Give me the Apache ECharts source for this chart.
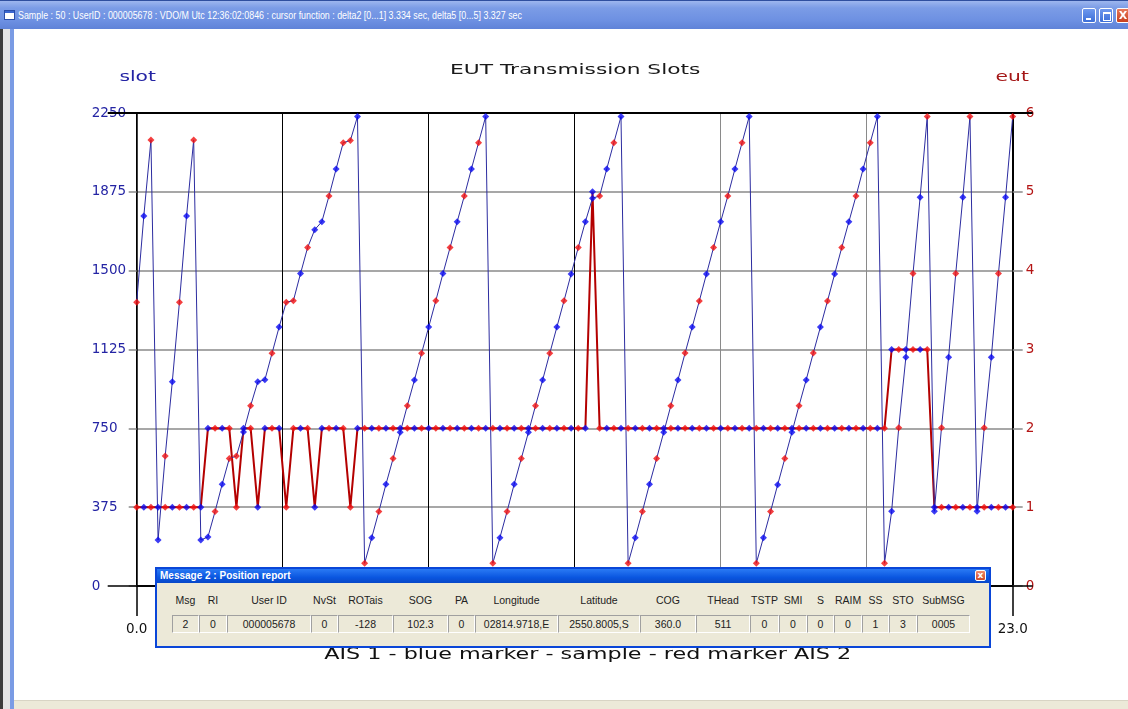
<!DOCTYPE html>
<html>
<head>
<meta charset="utf-8">
<script src="https://cdn.jsdelivr.net/npm/echarts@6/dist/echarts.min.js"></script>
<style>
html,body{margin:0;padding:0;width:1128px;height:709px;overflow:hidden;background:#fff;}
#chart{position:absolute;left:0;top:0;width:1128px;height:709px;}
#titlebar{position:absolute;left:0;top:0;width:1128px;height:29px;background:linear-gradient(#9db6ee 0%,#7b9ce6 25%,#6d90e2 70%,#5f83d8 100%);border-top:1px solid #2f4f9f;box-sizing:border-box;}
#titlebar .icon{position:absolute;left:4px;top:9px;width:11px;height:10px;background:#fff;border:1px solid #2a4da8;box-sizing:border-box;}
#titlebar .icon:before{content:'';position:absolute;left:0;top:0;width:9px;height:2px;background:#3a66d0;}
#ttext{position:absolute;left:18px;top:8px;white-space:nowrap;color:#fff;font:11px "Liberation Sans",Arial,sans-serif;transform-origin:0 0;}
.btn{position:absolute;top:7px;width:14px;height:15px;border:1px solid #fff;box-sizing:border-box;border-radius:2px;background:linear-gradient(#6e98ee,#3d6fd8);}
#bmin{left:1082px}#bmax{left:1099px}#bclose{left:1116px;background:linear-gradient(#e8795a,#c8401e);color:#fff;font:bold 11px "DejaVu Sans",sans-serif;text-align:center;line-height:13px;}
#bmin:after{content:'';position:absolute;left:3px;top:9px;width:5px;height:2px;background:#fff;}
#bmax:after{content:'';position:absolute;left:3px;top:3px;width:6px;height:6px;border:1px solid #fff;border-top-width:2px;}
#lborder{position:absolute;left:0;top:29px;width:14px;height:680px;background:linear-gradient(90deg,#3c3c3c 0,#3c3c3c 3px,#e4e4e4 3px,#e4e4e4 10px,#7a9be4 10px,#7a9be4 14px);}
#bstrip{position:absolute;left:14px;top:700px;width:1114px;height:9px;background:#ece9d8;border-top:1px solid #d8d4c4;box-sizing:border-box;}
#dlg{position:absolute;left:155px;top:567px;width:836px;height:81px;background:#ece9d8;border:2px solid #0a46d8;box-sizing:border-box;font:10.5px "Liberation Sans",Arial,sans-serif;color:#222;}
#dlg .dt{position:absolute;left:0;top:0;right:0;height:14px;background:linear-gradient(#2a7af4,#0a56e0 60%,#0848c8);color:#fff;font:bold 10px "Liberation Sans",Arial,sans-serif;line-height:14px;padding-left:3px;}
#dlg .dx{position:absolute;right:3px;top:1px;width:11px;height:11px;border:1px solid #fff;border-radius:2px;background:linear-gradient(#f08c6c,#d04a28);box-sizing:border-box;color:#fff;font:bold 9px "DejaVu Sans",sans-serif;line-height:9px;text-align:center;}
#dlg .hd{position:absolute;top:25px;text-align:center;white-space:nowrap;}
#dlg .cell{position:absolute;top:46px;height:18px;border-top:1px solid #a0a0a0;border-left:1px solid #a0a0a0;border-bottom:1px solid #fff;border-right:1px solid #fff;box-sizing:border-box;text-align:center;line-height:16px;white-space:nowrap;}
</style>
</head>
<body>
<div id="chart"></div>
<div id="titlebar"><div class="icon"></div><span id="ttext">Sample : 50 : UserID : 000005678 : VDO/M Utc 12:36:02:0846 : cursor function : delta2 [0...1] 3.334 sec, delta5 [0...5] 3.327 sec</span>
<div class="btn" id="bmin"></div><div class="btn" id="bmax"></div><div class="btn" id="bclose">X</div></div>
<div id="lborder"></div>
<div id="bstrip"></div>
<div id="dlg"><div class="dt">Message 2 : Position report<div class="dx">x</div></div></div>
<script>
// ---------------- data ----------------
const timeSpan = 23.0;            // x axis runs 0.0 .. 23.0
const xTickLabels = ['0.0', '23.0'];
const slotTicks = [0, 375, 750, 1125, 1500, 1875, 2250];
const eutTicks = [0, 1, 2, 3, 4, 5, 6];

// slot number of each sample (left axis)
const slotValues = [
  1350, 1760, 2122, 219, 618, 972, 1350, 1760, 2122, 219,
  233, 354, 484, 606, 618, 733, 858, 971, 981, 1107,
  1232, 1350, 1357, 1486, 1610, 1695, 1733, 1855, 1984, 2109,
  2119, 2233, 108, 230, 354, 484, 606, 731, 858, 980,
  1107, 1232, 1357, 1486, 1610, 1733, 1855, 1984, 2109, 2233,
  108, 230, 354, 484, 606, 731, 858, 980, 1107, 1232,
  1357, 1484, 1610, 1733, 1845, 1855, 1984, 2109, 2233, 108,
  230, 354, 484, 606, 731, 858, 980, 1108, 1232, 1356,
  1484, 1610, 1733, 1855, 1984, 2109, 2233, 108, 230, 354,
  482, 606, 731, 858, 980, 1108, 1232, 1356, 1484, 1610,
  1733, 1855, 1984, 2109, 2233, 108, 355, 753, 1088, 1486,
  1849, 2233, 355, 753, 1088, 1486, 1849, 2233, 355, 753,
  1088, 1486, 1849, 2233
];
// EUT value of each sample (right axis)
const eutValues = [
  1, 1, 1, 1, 1, 1, 1, 1, 1, 1,
  2, 2, 2, 2, 1, 2, 2, 1, 2, 2,
  2, 1, 2, 2, 2, 1, 2, 2, 2, 2,
  1, 2, 2, 2, 2, 2, 2, 2, 2, 2,
  2, 2, 2, 2, 2, 2, 2, 2, 2, 2,
  2, 2, 2, 2, 2, 2, 2, 2, 2, 2,
  2, 2, 2, 2, 5, 2, 2, 2, 2, 2,
  2, 2, 2, 2, 2, 2, 2, 2, 2, 2,
  2, 2, 2, 2, 2, 2, 2, 2, 2, 2,
  2, 2, 2, 2, 2, 2, 2, 2, 2, 2,
  2, 2, 2, 2, 2, 2, 3, 3, 3, 3,
  3, 3, 1, 1, 1, 1, 1, 1, 1, 1,
  1, 1, 1, 1
];
// receiving channel of each sample: 1 = AIS 1 (blue marker), 2 = AIS 2 (red marker)
const channels = [
  2, 1, 2, 1, 2, 1, 2, 1, 2, 1,
  1, 2, 1, 2, 2, 1, 2, 1, 1, 2,
  1, 2, 2, 1, 2, 1, 1, 2, 1, 2,
  2, 1, 2, 1, 2, 1, 2, 1, 2, 1,
  2, 1, 2, 1, 2, 1, 2, 1, 2, 1,
  2, 1, 2, 1, 2, 1, 2, 1, 2, 1,
  2, 1, 2, 1, 1, 2, 1, 2, 1, 2,
  1, 2, 1, 2, 1, 2, 1, 2, 1, 2,
  1, 2, 1, 2, 1, 2, 1, 2, 1, 2,
  1, 2, 1, 2, 1, 2, 1, 2, 1, 2,
  1, 2, 1, 2, 1, 2, 1, 2, 1, 2,
  1, 2, 1, 2, 1, 2, 1, 2, 1, 2,
  1, 2, 1, 2
];

// message 2 dialog content
const msgFields = ['Msg','RI','User ID','NvSt','ROTais','SOG','PA','Longitude','Latitude','COG','THead','TSTP','SMI','S','RAIM','SS','STO','SubMSG'];
const msgValues = ['2','0','000005678','0','-128','102.3','0','02814.9718,E','2550.8005,S','360.0','511','0','0','0','0','1','3','0005'];

// ---------------- dialog ----------------
(function(){
  const edges = [172,199,227,311,338,393,448,475,558,640,696,750,779,807,834,862,889,917,970];
  const dlg = document.getElementById('dlg');
  const ox = 157;
  msgFields.forEach((f, i) => {
    const l = edges[i] - ox, w = edges[i+1] - edges[i];
    const h = document.createElement('div');
    h.className = 'hd'; h.style.left = l + 'px'; h.style.width = w + 'px'; h.textContent = f;
    dlg.appendChild(h);
    const c = document.createElement('div');
    c.className = 'cell'; c.style.left = l + 'px'; c.style.width = w + 'px'; c.textContent = msgValues[i];
    dlg.appendChild(c);
  });
  const tt = document.getElementById('ttext');
  const wNat = tt.getBoundingClientRect().width;
  tt.style.transform = 'scaleX(' + (504 / wNat) + ')';
})();

// ---------------- chart ----------------
const sampleTimes = slotValues.map((_, i) => i * timeSpan / (slotValues.length - 1));
const slotData = sampleTimes.map((t, i) => [t, slotValues[i]]);
const eutData = sampleTimes.map((t, i) => [t, eutValues[i]]);
const pick = (arr, ch) => arr.filter((_, i) => channels[i] === ch);

const BLUE = '#0a0af0', RED = '#f01010';
const LABEL_FONT = '"DejaVu Sans", Verdana, sans-serif';

const chart = echarts.init(document.getElementById('chart'), null, {renderer: 'canvas'});
const marker = (name, data, yIdx, color) => ({
  type: 'scatter', name, data, xAxisIndex: 0, yAxisIndex: yIdx,
  symbol: 'diamond', symbolSize: [7, 7], itemStyle: {color}, z: 6, silent: true
});

chart.setOption({
  animation: false,
  backgroundColor: 'transparent',
  grid: {left: 136.7, right: 115.3, top: 113, bottom: 123, containLabel: false},
  xAxis: {
    type: 'value', min: 0, max: timeSpan, interval: timeSpan / 6,
    axisLine: {show: true, onZero: false, lineStyle: {color: '#000', width: 1.5}},
    axisTick: {show: true, length: 30, lineStyle: {color: '#000', width: 1.5}},
    axisLabel: {
      show: true, margin: 36, color: '#111', fontFamily: LABEL_FONT, fontSize: 13.5,
      formatter: v => (Math.abs(v) < 1e-6 ? xTickLabels[0] : (Math.abs(v - timeSpan) < 1e-6 ? xTickLabels[1] : ''))
    },
    splitLine: {show: true, lineStyle: {color: ['#000', '#000', '#000', '#000', '#8a8a8a', '#8a8a8a', '#000'], width: 1}}
  },
  yAxis: [
    {
      type: 'value', position: 'left', min: slotTicks[0], max: slotTicks[slotTicks.length - 1], interval: slotTicks[1] - slotTicks[0],
      axisLine: {show: true, lineStyle: {color: '#000', width: 1.5}},
      axisTick: {show: true, length: 8, lineStyle: {color: '#8a8a8a', width: 1.5}},
      axisLabel: {align: 'left', margin: 45, color: '#2424a4', fontFamily: LABEL_FONT, fontSize: 13.5,
                  formatter: v => String(v)},
      splitLine: {show: true, lineStyle: {color: ['#000', '#8a8a8a', '#8a8a8a', '#8a8a8a', '#8a8a8a', '#8a8a8a', '#000'], width: 1.5}}
    },
    {
      type: 'value', position: 'right', min: eutTicks[0], max: eutTicks[eutTicks.length - 1], interval: eutTicks[1] - eutTicks[0],
      axisLine: {show: true, lineStyle: {color: '#000', width: 2}},
      axisTick: {show: true, length: 10, lineStyle: {color: '#8a8a8a', width: 1.5}},
      axisLabel: {align: 'left', margin: 13, color: '#b41414', fontFamily: LABEL_FONT, fontSize: 13.5,
                  formatter: v => String(v)},
      splitLine: {show: false}
    }
  ],
  series: [
    {type: 'line', name: 'eut', data: eutData, yAxisIndex: 1, symbol: 'none', silent: true,
     lineStyle: {color: '#b40000', width: 2}, z: 3},
    {type: 'line', name: 'slot', data: slotData, yAxisIndex: 0, symbol: 'none', silent: true,
     lineStyle: {color: '#2c2ca0', width: 1}, z: 4},
    marker('AIS 1 slot', pick(slotData, 1), 0, BLUE),
    marker('AIS 2 slot', pick(slotData, 2), 0, RED),
    marker('AIS 1 eut', pick(eutData, 1), 1, BLUE),
    marker('AIS 2 eut', pick(eutData, 2), 1, RED)
  ]
});

// long black frame lines (top / bottom) and stretched chart texts
const xL = chart.convertToPixel({xAxisIndex: 0}, 0);
const xR = chart.convertToPixel({xAxisIndex: 0}, timeSpan);
const yTop = chart.convertToPixel({yAxisIndex: 0}, slotTicks[slotTicks.length - 1]);
const yBot = chart.convertToPixel({yAxisIndex: 0}, slotTicks[0]);
const stretched = (text, x, y, size, color, sx) => ({
  type: 'text', x, y, scaleX: sx, silent: true, z: 10,
  style: {text, x: 0, y: 0, align: 'center', verticalAlign: 'middle', fill: color,
          font: size + 'px ' + LABEL_FONT}
});
chart.setOption({
  graphic: [
    {type: 'line', silent: true, z: 5, shape: {x1: xL - 29, y1: yTop, x2: xR + 20, y2: yTop}, style: {stroke: '#000', lineWidth: 2}},
    {type: 'line', silent: true, z: 5, shape: {x1: xL - 29, y1: yBot, x2: xR + 20, y2: yBot}, style: {stroke: '#000', lineWidth: 1.5}},
    stretched('EUT Transmission Slots', (xL + xR) / 2 + 0.5, 70, 14.5, '#1a1a1a', 1.5),
    stretched('slot', xL + 1, 77, 13.5, '#2424a4', 1.5),
    stretched('eut', xR - 0.5, 77, 13.5, '#a51818', 1.5),
    stretched('AIS 1 - blue marker - sample - red marker AIS 2', (xL + xR) / 2 + 13, 655, 15, '#111', 1.485)
  ]
});
</script>
</body>
</html>
